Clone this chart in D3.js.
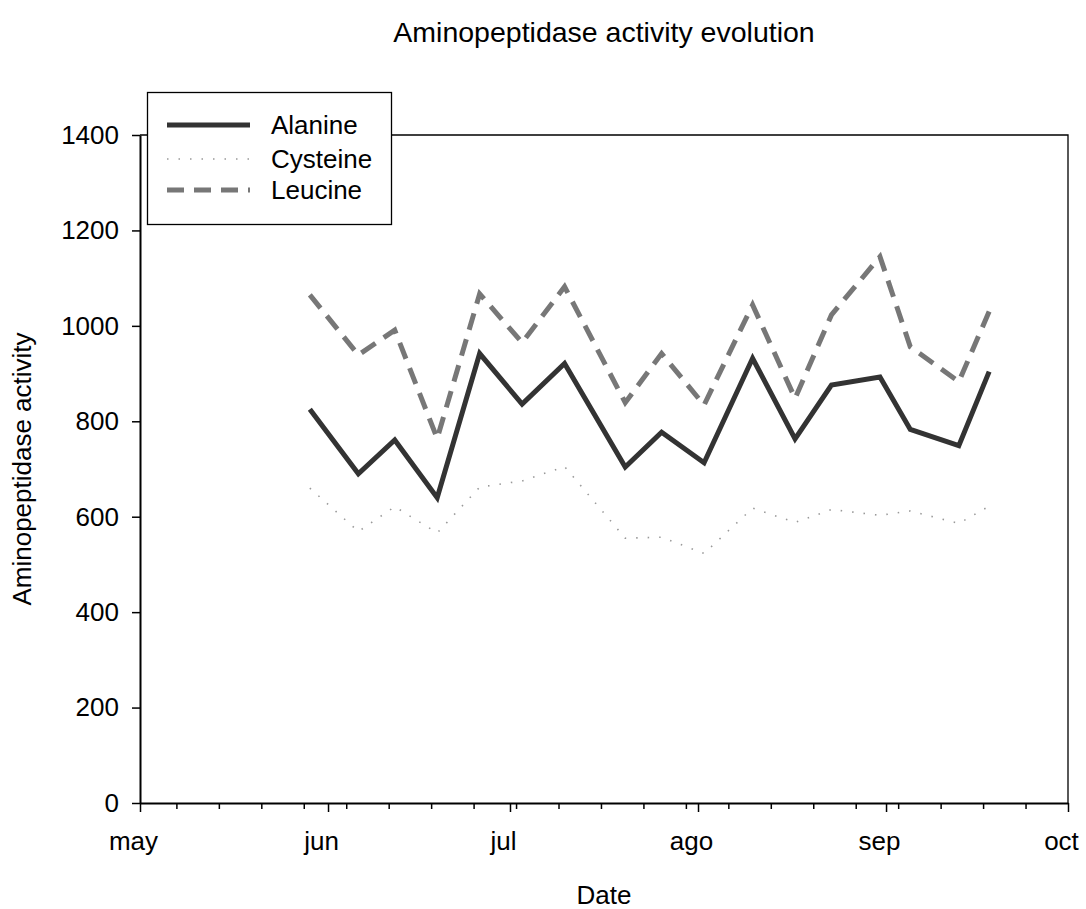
<!DOCTYPE html>
<html>
<head>
<meta charset="utf-8">
<script src="https://cdn.jsdelivr.net/npm/d3@7"></script>
<style>
  body { margin: 0; background: #fff; }
  text { font-family: "Liberation Sans", Arial, sans-serif; }
</style>
</head>
<body>
<div class="chart"></div>
<script>
const WIDTH = 1086, HEIGHT = 909;
const LEFT = 140, RIGHT = 1068, TOP = 135, BOTTOM = 803;
const FONT = "Liberation Sans, Arial, sans-serif";

// sampling dates
const dates = ["2006-05-29", "2006-06-06", "2006-06-12", "2006-06-19", "2006-06-26",
  "2006-07-03", "2006-07-10", "2006-07-20", "2006-07-26", "2006-08-02",
  "2006-08-10", "2006-08-17", "2006-08-23", "2006-08-31", "2006-09-05",
  "2006-09-13", "2006-09-18"];
const alanine = [825, 690, 761, 640, 942, 836, 921, 704, 777, 713, 932, 763, 876, 893, 783, 749, 904];
const cysteine = [660, 569, 621, 566, 662, 675, 705, 555, 557, 523, 618, 588, 615, 603, 612, 586, 622];
const leucine = [1065, 939, 991, 764, 1067, 965, 1082, 839, 942, 834, 1044, 848, 1023, 1145, 956, 883, 1030];

const monthLabels = ["may", "jun", "jul", "ago", "sep", "oct"];
const yTicks = [0, 200, 400, 600, 800, 1000, 1200, 1400];

const parse = d3.timeParse("%Y-%m-%d");
const start = new Date(2006, 4, 1), end = new Date(2006, 9, 1);
const monthTicks = d3.timeMonth.range(start, d3.timeDay.offset(end, 1));

const x = d3.scaleTime().domain([start, end]).range([LEFT, RIGHT]);
const y = d3.scaleLinear().domain([0, 1400]).range([BOTTOM, TOP]);

var svg = d3.select(".chart")
  .append("svg")
  .attr("width", WIDTH)
  .attr("height", HEIGHT);

// frame top / right
svg.append("path")
  .attr("d", `M${LEFT},${TOP}H${RIGHT}V${BOTTOM}`)
  .attr("fill", "none")
  .attr("stroke", "#000")
  .attr("stroke-width", 1.3);

// minor weekly ticks
svg.append("g")
  .attr("transform", `translate(0,${BOTTOM})`)
  .call(d3.axisBottom(x).tickValues(d3.timeSunday.range(start, end)).tickSize(6).tickFormat(""))
  .call(g => g.select(".domain").remove())
  .call(g => g.selectAll("line").attr("stroke-width", 1.5));

const xAxis = svg.append("g")
  .attr("transform", `translate(0,${BOTTOM})`)
  .call(d3.axisBottom(x).tickValues(monthTicks).tickSize(9).tickSizeOuter(0).tickPadding(20)
    .tickFormat((d, i) => monthLabels[i]));
xAxis.select(".domain").attr("stroke-width", 2);
xAxis.selectAll("line").attr("stroke-width", 1.5);
xAxis.selectAll("text").attr("font-size", 26).attr("fill", "#000").attr("font-family", FONT)
  .attr("dx", -7);

const yAxis = svg.append("g")
  .attr("transform", `translate(${LEFT},0)`)
  .call(d3.axisLeft(y).tickValues(yTicks).tickSize(8).tickSizeOuter(0).tickPadding(13)
    .tickFormat(d3.format("d")));
yAxis.select(".domain").attr("stroke-width", 2);
yAxis.selectAll("line").attr("stroke-width", 1.5);
yAxis.selectAll("text").attr("font-size", 26).attr("fill", "#000").attr("font-family", FONT);

const series = [
  { name: "Alanine", values: alanine, color: "#333333", width: 5, dash: null },
  { name: "Cysteine", values: cysteine, color: "#999999", width: 1.6, dash: "1.5,10" },
  { name: "Leucine", values: leucine, color: "#777777", width: 5, dash: "17,10" }
];

const line = d3.line()
  .x((d, i) => x(parse(dates[i])))
  .y(d => y(d));

series.forEach(s => {
  svg.append("path")
    .datum(s.values)
    .attr("d", line)
    .attr("fill", "none")
    .attr("stroke", s.color)
    .attr("stroke-width", s.width)
    .attr("stroke-dasharray", s.dash)
    .attr("stroke-linejoin", "miter");
});

// legend
const legend = svg.append("g");
legend.append("rect")
  .attr("x", 147.5).attr("y", 92.5)
  .attr("width", 244).attr("height", 132)
  .attr("fill", "#fff").attr("stroke", "#000").attr("stroke-width", 1.3);
series.forEach((s, i) => {
  const ly = [125, 159, 190][i];
  legend.append("line")
    .attr("x1", 167).attr("x2", 250).attr("y1", ly).attr("y2", ly)
    .attr("stroke", s.color).attr("stroke-width", s.width)
    .attr("stroke-dasharray", s.dash);
  legend.append("text")
    .attr("x", 271).attr("y", ly + 9)
    .attr("font-size", 26)
    .text(s.name);
});

svg.append("text")
  .attr("x", 604).attr("y", 42)
  .attr("text-anchor", "middle")
  .attr("font-size", 28.5)
  .text("Aminopeptidase activity evolution");

svg.append("text")
  .attr("x", 604).attr("y", 904)
  .attr("text-anchor", "middle")
  .attr("font-size", 26)
  .text("Date");

svg.append("text")
  .attr("transform", `translate(31,${(TOP + BOTTOM) / 2}) rotate(-90)`)
  .attr("text-anchor", "middle")
  .attr("font-size", 26)
  .text("Aminopeptidase activity");
</script>
</body>
</html>
